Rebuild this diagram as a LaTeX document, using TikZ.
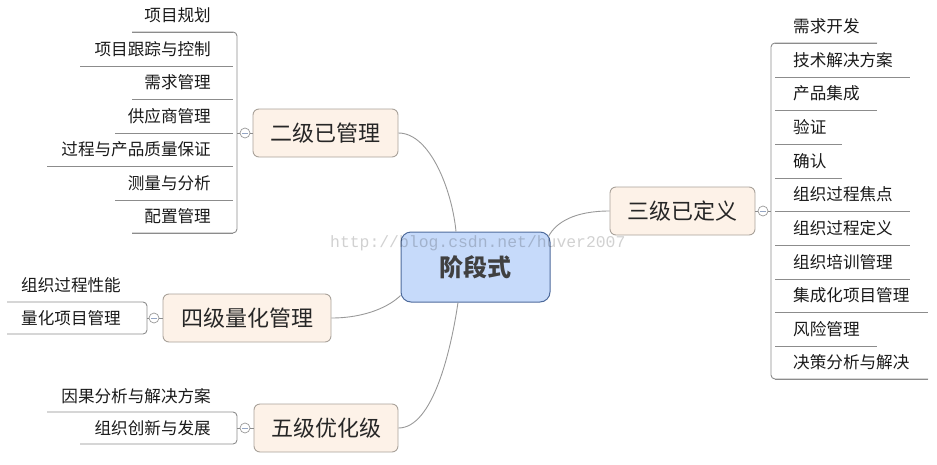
\documentclass[tikz,border=0pt]{standalone}
\usepackage{fontspec}
\newfontfamily\cjk{Noto Sans CJK SC}
\newfontfamily\wmfont{Liberation Mono}
\definecolor{lvlfill}{HTML}{FDF2E8}
\definecolor{lvlborder}{HTML}{A9A29A}
\definecolor{rootfill}{HTML}{C6DAFA}
\definecolor{rootborder}{HTML}{4E6B9C}
\definecolor{linegray}{HTML}{8C8C8C}
\definecolor{conngray}{HTML}{999999}
\begin{document}
\begin{tikzpicture}[x=1pt,y=-1pt,
  leaf/.style={font=\cjk\fontsize{16.6}{19}\selectfont, inner sep=0pt, text=black!90},
  lvl/.style={draw=lvlborder, fill=lvlfill, rounded corners=6pt, line width=0.9pt,
    font=\cjk\fontsize{22}{25}\selectfont, minimum height=48pt, inner sep=0pt, text=black!85},
  rootbox/.style={draw=rootborder, fill=rootfill, rounded corners=10pt, line width=1pt,
    font=\cjk\bfseries\fontsize{24}{28}\selectfont, minimum width=149pt, minimum height=70pt,
    inner sep=0pt, text=black!75},
  uline/.style={draw=linegray, line width=0.9pt},
  bracket/.style={draw=linegray, line width=0.9pt, rounded corners=4pt},
  conn/.style={draw=conngray, line width=0.9pt},
  fold/.style={circle, draw=black!40, fill=white, minimum size=10pt, inner sep=0pt, line width=0.7pt},
  foldbar/.style={draw=rootborder!60, line width=0.9pt}
]
\useasboundingbox (0,0) rectangle (937,464);

% root
\node[rootbox] (root) at (475.5,267) {阶段式};

% level 2 nodes
\node[lvl, minimum width=145pt] (n2) at (325.5,133) {二级已管理};
\node[lvl, minimum width=145pt] (n3) at (682.5,211) {三级已定义};
\node[lvl, minimum width=168pt] (n4) at (247,318) {四级量化管理};
\node[lvl, minimum width=144pt] (n5) at (326,428) {五级优化级};

% connectors to root
\draw[conn] (n2.east) .. controls (430,133) and (452,190) .. ([xshift=-19.5pt]root.north);
\draw[conn] (n3.west) .. controls (575,211) and (556,222) .. ([xshift=-2pt,yshift=-5pt]root.north east);
\draw[conn] (n4.east) .. controls (366,318) and (390,306) .. ([yshift=7pt]root.south west);
\draw[conn] (n5.east) .. controls (433,428) and (451,350) .. ([xshift=-17.5pt]root.south);

% ---- level 2 (left top)
\foreach \n/\t/\y/\l in {a1/项目规划/15/132, a2/项目跟踪与控制/49/80, a3/需求管理/82/132,
  a4/供应商管理/116/115, a5/过程与产品质量保证/149/47, a6/测量与分析/183/115, a7/配置管理/216/132}{
  \node[leaf, anchor=east] (\n) at (211,\y) {\t};
  \draw[uline] (\l,\y+17) -- (233,\y+17);
}
\draw[bracket] (132,32) -- (237,32) -- (237,233) -- (132,233);
\node[fold] (f2) at (245,133) {};
\draw[uline] (237,133) -- (f2.west);
\draw[uline] (f2.east) -- (n2.west);
\draw[foldbar] ([xshift=-3pt]f2.center) -- ([xshift=3pt]f2.center);

% ---- level 3 (right)
\foreach \n/\t/\y/\r in {b1/需求开发/26/877, b2/技术解决方案/60/910, b3/产品集成/93/877,
  b4/验证/127/842, b5/确认/161/842, b6/组织过程焦点/194/910, b7/组织过程定义/228/910,
  b8/组织培训管理/262/910, b9/集成化项目管理/295/928, b10/风险管理/329/877, b11/决策分析与解决/362/928}{
  \node[leaf, anchor=west] (\n) at (793,\y) {\t};
  \draw[uline] (775,\y+17) -- (\r,\y+17);
}
\draw[bracket] (877,43) -- (771,43) -- (771,379) -- (928,379);
\node[fold] (f3) at (763,211) {};
\draw[uline] (n3.east) -- (f3.west);
\draw[uline] (f3.east) -- (771,211);
\draw[foldbar] ([xshift=-3pt]f3.center) -- ([xshift=3pt]f3.center);

% ---- level 4
\node[leaf, anchor=east] (c1) at (121,285) {组织过程性能};
\node[leaf, anchor=east] (c2) at (121,318) {量化项目管理};
\draw[bracket] (7,302) -- (147,302) -- (147,334) -- (7,334);
\node[fold] (f4) at (154,318) {};
\draw[uline] (147,318) -- (f4.west);
\draw[uline] (f4.east) -- (n4.west);
\draw[foldbar] ([xshift=-3pt]f4.center) -- ([xshift=3pt]f4.center);

% ---- level 5
\node[leaf, anchor=east] (d1) at (211,396) {因果分析与解决方案};
\node[leaf, anchor=east] (d2) at (211,428) {组织创新与发展};
\draw[bracket] (47,412) -- (237,412) -- (237,444) -- (80,444);
\node[fold] (f5) at (245,428) {};
\draw[uline] (237,428) -- (f5.west);
\draw[uline] (f5.east) -- (n5.west);
\draw[foldbar] ([xshift=-3pt]f5.center) -- ([xshift=3pt]f5.center);

% watermark
\node[anchor=west, inner sep=0pt, font=\wmfont\fontsize{16.4}{18}\selectfont, text=black, opacity=0.18] (wm) at (330,243) {http://blog.csdn.net/huver2007};
\end{tikzpicture}
\end{document}
